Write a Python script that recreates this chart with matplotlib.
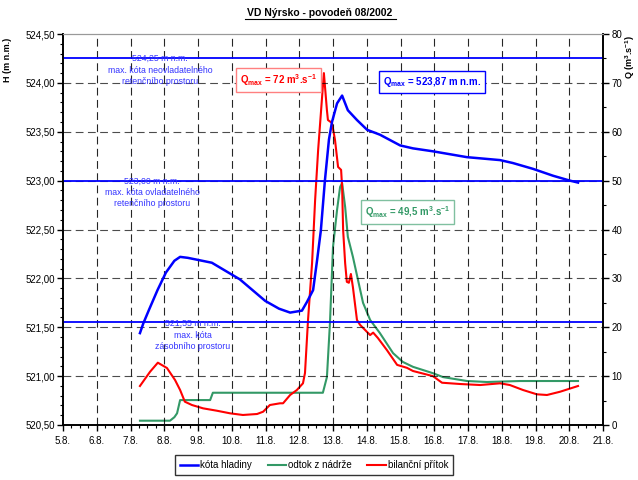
import matplotlib
matplotlib.use("Agg")
import matplotlib.pyplot as plt
from matplotlib.ticker import MultipleLocator, FuncFormatter

plt.rcParams['font.family'] = ['Liberation Sans', 'DejaVu Sans']
plt.rcParams['mathtext.fontset'] = 'custom'
plt.rcParams['mathtext.rm'] = 'Liberation Sans'
plt.rcParams['mathtext.it'] = 'Liberation Sans:italic'
plt.rcParams['mathtext.bf'] = 'Liberation Sans:bold'

# Time axis: day of August (5.0 = 5.8. 0:00)
h_days = [7.28, 7.38, 7.55, 7.80, 8.05, 8.30, 8.47, 8.70, 9.41, 10.24, 10.99, 11.40, 11.73,
          12.08, 12.23, 12.41, 12.53, 12.64, 12.76, 12.88, 12.97, 13.12, 13.27, 13.44,
          13.71, 14.01, 14.39, 14.99, 15.37, 15.96, 16.97, 17.95, 18.33, 18.93, 19.52,
          20.02, 20.26]
h_vals = [521.44, 521.54, 521.68, 521.88, 522.06, 522.18, 522.22, 522.21, 522.16, 521.99,
          521.77, 521.69, 521.65, 521.67, 521.76, 521.88, 522.19, 522.49, 523.00, 523.42,
          523.60, 523.79, 523.87, 523.72, 523.62, 523.52, 523.47, 523.36, 523.33, 523.30,
          523.24, 523.21, 523.18, 523.12, 523.05, 523.00, 522.98]

q_in_days = [7.28, 7.58, 7.81, 8.08, 8.32, 8.47, 8.61, 8.82, 9.15, 9.56, 9.95, 10.33, 10.75,
             10.93, 11.13, 11.43, 11.52, 11.73, 11.93, 12.11, 12.17, 12.26, 12.38, 12.47,
             12.56, 12.67, 12.73, 12.82, 12.85, 12.97, 13.06, 13.15, 13.24, 13.27, 13.30,
             13.36, 13.41, 13.47, 13.53, 13.59, 13.71, 13.80, 14.10, 14.19, 14.33, 14.60,
             14.90, 15.19, 15.37, 15.96, 16.23, 16.76, 17.36, 17.95, 18.24, 18.63, 19.04,
             19.34, 19.73, 20.26]
q_in_vals = [7.98, 10.9, 12.75, 11.66, 9.2, 7.16, 4.77, 4.09, 3.41, 2.92, 2.39, 2.05, 2.25,
             2.72, 4.09, 4.44, 4.44, 6.14, 7.16, 8.53, 10.64, 21.48, 33.15, 46.0,
             56.3, 66.5, 72.0, 64.4, 62.4, 61.8, 58.3, 52.8, 52.2, 48.7, 39.9,
             33.1, 29.3, 29.1, 30.9, 28.2, 21.5, 20.5, 18.4, 18.9, 17.8, 15.3,
             12.3, 11.7, 11.05, 10.0, 8.65, 8.39, 8.18, 8.53, 8.18, 7.16, 6.28,
             6.14, 6.81, 7.98]

q_out_days = [7.28, 8.17, 8.30, 8.38, 8.47, 9.36, 9.44, 12.70, 12.82, 12.91, 13.00, 13.12,
              13.21, 13.27, 13.36, 13.44, 13.59, 13.74, 13.89, 14.10, 14.39, 14.78, 15.07,
              15.37, 15.96, 16.26, 16.97, 17.56, 18.54, 20.26]
q_out_vals = [0.88, 0.88, 1.6, 2.4, 5.1, 5.1, 6.6, 6.6, 9.8, 20.9, 36.4, 44.0,
              48.7, 49.5, 44.6, 38.5, 34.4, 29.7, 25.0, 21.5, 18.8, 14.7, 12.9,
              11.9, 10.6, 9.8, 9.0, 8.8, 9.0, 9.0]

ref_levels = [524.25, 523.00, 521.55]
ref_texts = ["524,25 m n.m.\nmax. kóta neovladatelného\nretenčního prostoru",
             "523,00 m n.m.\nmax. kóta ovladatelného\nretenčního prostoru",
             "521,55 m n.m.\nmax. kóta\nzásobního prostoru"]
ref_text_pos = [(7.88, 524.13), (7.64, 522.88), (8.85, 521.42)]

x_ticks = list(range(5, 22))
x_labels = [f"{d}.8." for d in x_ticks]

BLUE = "#0000FF"
GREEN = "#339966"
RED = "#FF0000"

fig = plt.figure(figsize=(6.38, 4.8), dpi=100)
ax = fig.add_axes([63/638, 1-425/480, 540/638, 391/480])
ax2 = ax.twinx()

ax.set_xlim(5, 21)
ax.set_ylim(520.5, 524.5)
ax2.set_ylim(0, 80)

# grid
for d in x_ticks[1:-1]:
    ax.axvline(d, color="black", lw=0.8, dashes=(7, 4), zorder=1, alpha=0.85)
for yv in [521.0, 521.5, 522.0, 522.5, 523.0, 523.5, 524.0]:
    ax.axhline(yv, color="black", lw=0.8, dashes=(7, 4), zorder=1, alpha=0.7)

for lvl in ref_levels:
    ax.axhline(lvl, color=BLUE, lw=1.3, zorder=2)
for (tx, ty), t in zip(ref_text_pos, ref_texts):
    ax.text(tx, ty, t, color="#3333FF", fontsize=6.3, ha="center", va="center",
            linespacing=1.35, zorder=3)

lh, = ax.plot(h_days, h_vals, color=BLUE, lw=1.8, zorder=5)
lo, = ax2.plot(q_out_days, q_out_vals, color=GREEN, lw=1.5, zorder=4)
li, = ax2.plot(q_in_days, q_in_vals, color=RED, lw=1.5, zorder=4)
ax.set_zorder(ax2.get_zorder() + 1)
ax.patch.set_visible(False)

# ticks
ax.set_xticks(x_ticks)
ax.set_xticklabels(x_labels)
ax.xaxis.set_minor_locator(MultipleLocator(0.25))
ax.yaxis.set_major_locator(MultipleLocator(0.5))
ax.yaxis.set_minor_locator(MultipleLocator(0.1))
ax.yaxis.set_major_formatter(FuncFormatter(lambda v, p: f"{v:.2f}".replace(".", ",")))
ax2.yaxis.set_major_locator(MultipleLocator(10))
ax2.yaxis.set_minor_locator(MultipleLocator(5))
for a in (ax, ax2):
    a.tick_params(which="major", length=4, width=1, labelsize=7, direction="out", pad=2)
    a.tick_params(which="minor", length=2, width=0.8, direction="out")
    a.spines["top"].set_color("#999999")
    a.spines["top"].set_linewidth(0.8)
    for s in ("left", "right", "bottom"):
        a.spines[s].set_linewidth(1.2)
ax.tick_params(axis="x", pad=4)

fig.text(8/638, 1-60/480, "H (m n.m.)", rotation=90, fontsize=6.5, fontweight="bold",
         ha="center", va="center")
fig.text(630/638, 1-57/480, "Q (m$^\\mathbf{3}$.s$^\\mathbf{-1}$)", rotation=90, fontsize=6.5,
         fontweight="bold", ha="center", va="center")
fig.text(320/638, 1-13/480, "VD Nýrsko - povodeň 08/2002", fontsize=7.5, fontweight="bold",
         ha="center", va="center")
fig.add_artist(plt.Line2D([245/638, 396/638], [1-19/480, 1-19/480], color="black", lw=0.8))

# annotation boxes (on the top axes, placed in Q coordinates)
ax.text(11.38, 70.6, "Q$_{\\mathregular{max}}$ = 72 m$^{\\mathbf{3}}$.s$^{\\mathbf{-1}}$",
        transform=ax2.transData,
        color=RED, fontsize=7, fontweight="bold", ha="center", va="center", zorder=8,
        bbox=dict(boxstyle="square,pad=0.4", fc="white", ec="#FF8080", lw=1))
ax.text(15.93, 70.2, "Q$_{\\mathregular{max}}$ = 523,87 m n.m.",
        transform=ax2.transData,
        color=BLUE, fontsize=7, fontweight="bold", ha="center", va="center", zorder=8,
        bbox=dict(boxstyle="square,pad=0.4", fc="white", ec=BLUE, lw=1))
ax.text(15.22, 43.6, "Q$_{\\mathregular{max}}$ = 49,5 m$^{\\mathbf{3}}$.s$^{\\mathbf{-1}}$",
        transform=ax2.transData,
        color=GREEN, fontsize=7, fontweight="bold", ha="center", va="center", zorder=8,
        bbox=dict(boxstyle="square,pad=0.4", fc="white", ec="#80C0A0", lw=1))

leg = fig.legend([lh, lo, li], ["kóta hladiny", "odtok z nádrže", "bilanční přítok"],
                 loc="center", bbox_to_anchor=(314/638, 1-465/480), ncol=3, fontsize=7,
                 frameon=True, fancybox=False, edgecolor="black", handlelength=1.9,
                 handletextpad=0.2, columnspacing=1.6, borderpad=0.5)
leg.get_frame().set_linewidth(1.0)

fig.savefig("out.png", dpi=100)
